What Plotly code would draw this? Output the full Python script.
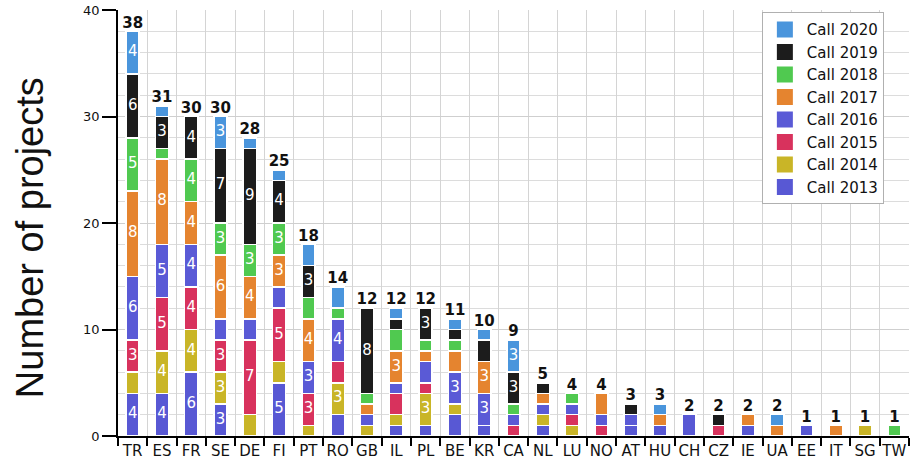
import plotly.graph_objects as go

countries = ["TR", "ES", "FR", "SE", "DE", "FI", "PT", "RO", "GB", "IL", "PL", "BE", "KR", "CA",
             "NL", "LU", "NO", "AT", "HU", "CH", "CZ", "IE", "UA", "EE", "IT", "SG", "TW"]

call_2013 = [4, 4, 6, 3, 0, 5, 0, 2, 0, 1, 1, 2, 1, 0, 1, 0, 0, 1, 1, 2, 0, 1, 0, 1, 0, 0, 0]
call_2014 = [2, 4, 4, 3, 2, 2, 1, 3, 1, 1, 3, 1, 0, 0, 1, 1, 0, 0, 0, 0, 0, 0, 0, 0, 0, 1, 0]
call_2015 = [3, 5, 4, 3, 7, 5, 3, 2, 0, 2, 1, 0, 0, 1, 0, 1, 1, 0, 0, 0, 1, 0, 0, 0, 0, 0, 0]
call_2016 = [6, 5, 4, 2, 2, 2, 3, 4, 1, 1, 2, 3, 3, 1, 1, 1, 1, 1, 0, 0, 0, 0, 0, 0, 0, 0, 0]
call_2017 = [8, 8, 4, 6, 4, 3, 4, 0, 1, 3, 1, 2, 3, 0, 1, 0, 2, 0, 1, 0, 0, 1, 1, 0, 1, 0, 0]
call_2018 = [5, 1, 4, 3, 3, 3, 2, 1, 1, 2, 1, 1, 0, 1, 0, 1, 0, 0, 0, 0, 0, 0, 0, 0, 0, 0, 1]
call_2019 = [6, 3, 4, 7, 9, 4, 3, 0, 8, 1, 3, 1, 2, 3, 1, 0, 0, 1, 0, 0, 1, 0, 0, 0, 0, 0, 0]
call_2020 = [4, 1, 0, 3, 1, 1, 2, 2, 0, 1, 0, 1, 1, 3, 0, 0, 0, 0, 1, 0, 0, 0, 1, 0, 0, 0, 0]

series_names = ["Call 2013", "Call 2014", "Call 2015", "Call 2016",
                "Call 2017", "Call 2018", "Call 2019", "Call 2020"]
series_values = [call_2013, call_2014, call_2015, call_2016,
                 call_2017, call_2018, call_2019, call_2020]
series_colors = ["#5858d4", "#c9b527", "#d8325d", "#5a5ad6",
                 "#e5842f", "#50c950", "#1c1c1c", "#4a95dc"]

totals = [sum(v) for v in zip(*series_values)]

fig = go.Figure()
for name, vals, col in zip(series_names, series_values, series_colors):
    fig.add_trace(go.Bar(
        x=countries, y=vals, name=name, showlegend=False,
        marker=dict(color=col, line=dict(color="white", width=1.5)),
        hoverinfo="x+y+name",
    ))

# legend entries with larger square swatches
for name, col in zip(series_names, series_colors):
    fig.add_trace(go.Scatter(
        x=[None], y=[None], mode="markers", name=name,
        marker=dict(symbol="square", size=16, color=col),
    ))

# segment value labels (only for segments of 3 or more), placed at segment mid-heights
lab_x, lab_y, lab_t = [], [], []
cum = [0] * len(countries)
for vals in series_values:
    for i, v in enumerate(vals):
        if v >= 3:
            lab_x.append(countries[i])
            lab_y.append(cum[i] + v / 2)
            lab_t.append(str(v))
        cum[i] += v

fig.add_trace(go.Scatter(
    x=lab_x, y=lab_y, mode="text", text=lab_t, textposition="middle center",
    showlegend=False, hoverinfo="skip",
    textfont=dict(family="DejaVu Sans", size=15, color="white"),
))

fig.add_trace(go.Scatter(
    x=countries, y=totals, mode="text", text=[str(t) for t in totals],
    textposition="top center", showlegend=False,
    textfont=dict(family="DejaVu Sans", size=15, color="#111111"),
    texttemplate="<b>%{text}</b>", cliponaxis=False,
))

fig.add_annotation(
    text="Number of projects", textangle=-90,
    xref="paper", yref="paper", x=-0.111, y=0.5, xanchor="center", yanchor="middle",
    yshift=-15, showarrow=False,
    font=dict(family="Liberation Sans", size=38, color="#111111"),
)

fig.update_layout(
    width=910, height=469,
    barmode="stack", bargap=0.55,
    paper_bgcolor="white", plot_bgcolor="white",
    margin=dict(l=118, r=1, t=10, b=33),
    font=dict(family="DejaVu Sans", color="#111111"),
    legend=dict(
        x=0.814, y=0.995, xanchor="left", yanchor="top",
        traceorder="reversed", bgcolor="white",
        bordercolor="#b0b0b0", borderwidth=1,
        font=dict(family="DejaVu Sans", size=15, color="#111111"),
        itemwidth=34,
    ),
    xaxis=dict(
        type="category", tickson="boundaries", ticks="outside", ticklen=8,
        tickcolor="black", tickwidth=1.5, tickangle=0,
        showline=True, linecolor="black", linewidth=1.5,
        showgrid=True, gridcolor="#d4d4d4", gridwidth=1,
        tickfont=dict(family="DejaVu Sans", size=15, color="#111111"),
        range=[-0.5, 26.5],
    ),
    yaxis=dict(
        range=[0, 40], dtick=10, ticks="outside", ticklen=14,
        tickcolor="black", tickwidth=1.5,
        showline=True, linecolor="black", linewidth=1.5,
        showgrid=True, gridcolor="#cfcfcf", gridwidth=1,
        minor=dict(dtick=2, showgrid=True, gridcolor="#dcdcdc", gridwidth=1),
        tickfont=dict(family="DejaVu Sans", size=13, color="#111111"),
        zeroline=False,
        automargin=False,
    ),
)

fig.write_html("out.html", post_script="document.body.style.margin='0';",
               config={"displayModeBar": False})
